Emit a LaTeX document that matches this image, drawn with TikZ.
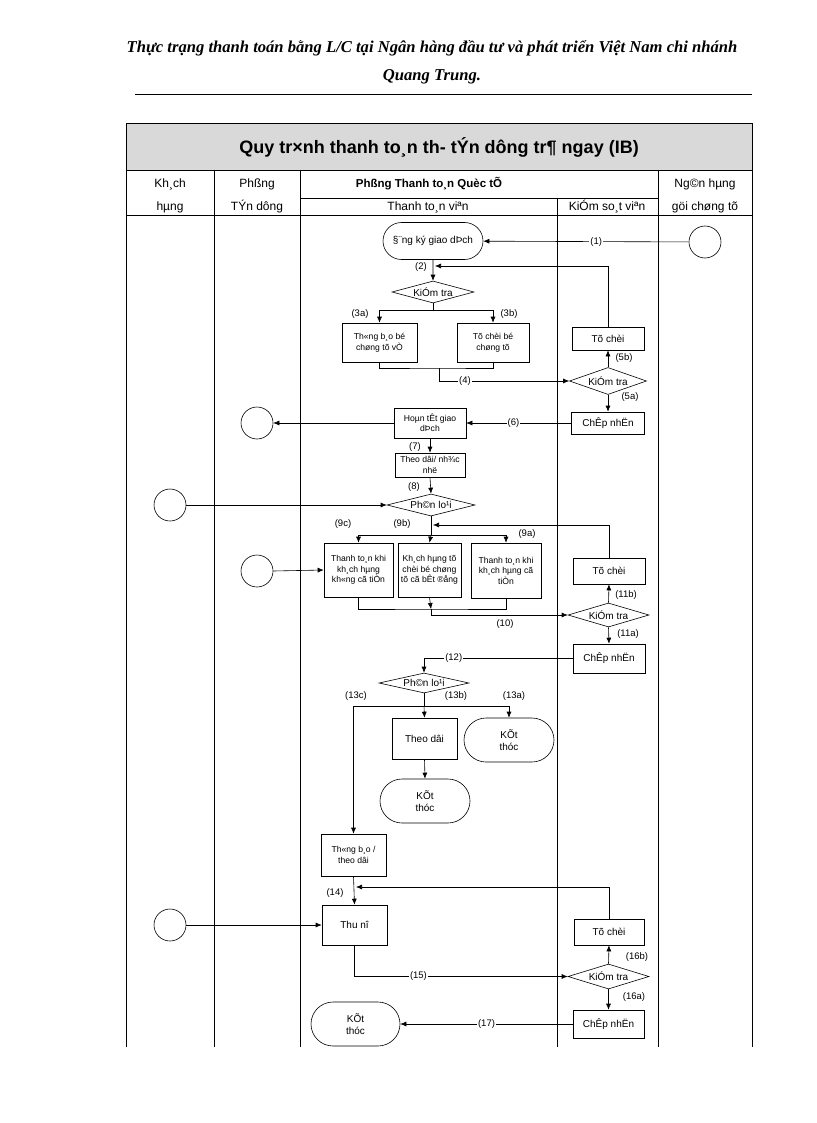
\documentclass[tikz,border=0pt]{standalone}
\usepackage{fontspec}
\setmainfont{Liberation Sans}
\newfontfamily\hdfont{Liberation Serif}
\usetikzlibrary{arrows.meta,shapes.geometric,shapes.misc}
\begin{document}
\begin{tikzpicture}[x=1pt,y=-1pt, line width=0.6pt,
  >={Latex[length=6pt,width=5pt]},
  box/.style={draw, rectangle, inner sep=0pt, align=center, font=\fontsize{8.6}{10.5}\selectfont},
  bbox/.style={box, font=\fontsize{10}{12}\selectfont},
  dia/.style={draw, diamond, inner sep=0pt, font=\fontsize{10}{12}\selectfont},
  stad/.style={draw, rounded rectangle, inner sep=0pt, align=center, font=\fontsize{10}{12}\selectfont},
  circ/.style={draw, circle, minimum size=32pt, inner sep=0pt},
  lbl/.style={font=\fontsize{9.5}{11}\selectfont, inner sep=1pt},
  onl/.style={lbl, fill=white},
  hdr/.style={font=\fontsize{12}{14}\selectfont, inner sep=0pt},
  grid/.style={line width=0.7pt}
]
\useasboundingbox (0,0) rectangle (816,1123);
% page header
\node[font=\hdfont\bfseries\itshape\fontsize{16.6}{19}\selectfont] (hd1) at (432,48) {Thực trạng thanh toán bằng L/C tại Ngân hàng đầu tư và phát triển Việt Nam chi nhánh};
\node[font=\hdfont\bfseries\itshape\fontsize{16.6}{19}\selectfont] (hd2) at (432,77) {Quang Trung.};
\draw[line width=0.5pt] (135,94) -- (752,94);
% table frame
\fill[gray!30] (126,123) rectangle (752,170);
\draw[grid] (126,1047) -- (126,123) -- (752,123) -- (752,1047);
\draw[grid] (126,170) -- (752,170);
\draw[grid] (126,215) -- (752,215);
\draw[grid] (300,198) -- (658,198);
\draw[grid] (214,170) -- (214,1047);
\draw[grid] (300,170) -- (300,1047);
\draw[grid] (658,170) -- (658,1047);
\draw[grid] (557,198) -- (557,1047);
\node[font=\bfseries\fontsize{18}{21}\selectfont] (ttl) at (439,147) {Quy tr×nh thanh to¸n th- tÝn dông tr¶ ngay (IB)};
\node[hdr] (h1a) at (170,184) {Kh¸ch};
\node[hdr] (h1b) at (170,207) {hµng};
\node[hdr] (h2a) at (257,184) {Phßng};
\node[hdr] (h2b) at (257,207) {TÝn dông};
\node[hdr, font=\bfseries\fontsize{11.5}{14}\selectfont] (h3) at (429,184) {Phßng Thanh to¸n Quèc tÕ};
\node[hdr] (h3a) at (428,207) {Thanh to¸n viªn};
\node[hdr] (h3b) at (607,207) {KiÓm so¸t viªn};
\node[hdr] (h4a) at (705,184) {Ng©n hµng};
\node[hdr] (h4b) at (705,207) {göi chøng tõ};

% nodes
\node[stad, minimum width=100pt, minimum height=37pt] (dk) at (433,241) {§¨ng ký giao dÞch};
\node[circ] (c1) at (705,242) {};
\node[dia, minimum width=82pt, minimum height=22pt, aspect=3.7] (kt1) at (433,292) {KiÓm tra};
\node[box, minimum width=75pt, minimum height=39pt] (tb1) at (379.5,342.5) {Th«ng b¸o bé\\chøng tõ vÒ};
\node[box, minimum width=72pt, minimum height=39pt] (tc1) at (493,342.5) {Tõ chèi bé\\chøng tõ};
\node[dia, minimum width=77pt, minimum height=27pt, aspect=2.9] (kt2) at (608,381) {KiÓm tra};
\node[bbox, minimum width=72pt, minimum height=23pt] (tcr1) at (608,338.5) {Tõ chèi};
\node[bbox, minimum width=73pt, minimum height=22pt] (cn1) at (608,423) {ChÊp nhËn};
\node[box, minimum width=72pt, minimum height=30pt] (ht) at (430,423) {Hoµn tÊt giao\\dÞch};
\node[circ] (c2) at (257,423) {};
\node[box, minimum width=70pt, minimum height=24pt] (td) at (430,465) {Theo dâi/ nh¾c\\nhë};
\node[dia, minimum width=88pt, minimum height=22pt, aspect=4] (pl1) at (431,505) {Ph©n lo¹i};
\node[circ] (c3) at (170,505) {};
\node[box, minimum width=69pt, minimum height=54pt] (b9c) at (358.5,570) {Thanh to¸n khi\\kh¸ch hµng\\kh«ng cã tiÒn};
\node[box, minimum width=63pt, minimum height=54pt] (b9b) at (429.5,570) {Kh¸ch hµng tõ\\chèi bé chøng\\tõ cã bÊt ®ång};
\node[box, minimum width=70pt, minimum height=55pt] (b9a) at (506,570.5) {Thanh to¸n khi\\kh¸ch hµng cã\\tiÒn};
\node[circ] (c4) at (257,571) {};
\node[bbox, minimum width=72pt, minimum height=26pt] (tcr2) at (609,571) {Tõ chèi};
\node[dia, minimum width=81pt, minimum height=24pt, aspect=3.4] (kt3) at (608.5,615) {KiÓm tra};
\node[bbox, minimum width=72pt, minimum height=29pt] (cn2) at (609,658.5) {ChÊp nhËn};
\node[dia, minimum width=90pt, minimum height=20pt, aspect=4.5] (pl2) at (424,683) {Ph©n lo¹i};
\node[bbox, minimum width=65pt, minimum height=41pt] (tdoi) at (424.5,738.5) {Theo dâi};
\node[stad, minimum width=90pt, minimum height=44pt] (kth1) at (509,740) {KÕt\\thóc};
\node[stad, minimum width=90pt, minimum height=44pt] (kth2) at (425,801) {KÕt\\thóc};
\node[box, minimum width=65pt, minimum height=42pt] (tbtd) at (353.5,855) {Th«ng b¸o /\\theo dâi};
\node[bbox, minimum width=65pt, minimum height=40pt] (thu) at (354.5,925) {Thu nî};
\node[circ] (c5) at (170,925) {};
\node[bbox, minimum width=70pt, minimum height=26pt] (tcr3) at (609,932) {Tõ chèi};
\node[dia, minimum width=81pt, minimum height=25pt, aspect=3.2] (kt4) at (608.5,976.5) {KiÓm tra};
\node[bbox, minimum width=71pt, minimum height=28pt] (cn3) at (608.5,1024) {ChÊp nhËn};
\node[stad, minimum width=89pt, minimum height=44pt] (kth3) at (355.5,1024) {KÕt\\thóc};

% helper coordinates
\coordinate (f2) at (435,266);
\coordinate (s3) at (433,310);
\coordinate (j4) at (439,368);
\coordinate (f9) at (433,525);
\coordinate (s9) at (431,535);
\coordinate (j10) at (431,609);
\coordinate (s13) at (424,706);
\coordinate (f14) at (356,887);

% connectors
\draw[->] (c1) -- node[onl, pos=0.45] (l1) {(1)} (dk);
\draw[->] (dk) -- (kt1);
\node[lbl] (l2) at (421,267) {(2)};
\draw[->] (tcr1.north) |- (f2);
\draw (kt1.south) -- (s3);
\draw[->] (s3) -| (tb1.north);
\draw[->] (s3) -| (tc1.north);
\node[lbl] (l3a) at (360,314) {(3a)};
\node[lbl] (l3b) at (509,314) {(3b)};
\draw (tb1.south) |- (j4) -| (tc1.south);
\draw[->] (j4) |- node[onl, pos=0.6] (l4) {(4)} (kt2.west);
\draw[->] (kt2.north) -- (tcr1.south);
\node[lbl] (l5b) at (624,358) {(5b)};
\draw[->] (kt2.south) -- (cn1.north);
\node[lbl] (l5a) at (630,397) {(5a)};
\draw[->] (cn1.west) -- node[onl, pos=0.55] (l6) {(6)} (ht.east);
\draw[->] (ht.west) -- (c2.east);
\draw[->] (ht.south) -- (td.north);
\node[lbl] (l7) at (415,447) {(7)};
\draw[->] (td.south) -- (pl1.north);
\node[lbl] (l8) at (414,487) {(8)};
\draw[->] (c3.east) -- (pl1.west);
\draw (pl1.south) -- (s9);
\draw[->] (tcr2.north) |- (f9);
\draw[->] (s9) -| (b9c.north);
\draw[->] (s9) -- (b9b.north);
\draw[->] (s9) -| (b9a.north);
\node[lbl] (l9c) at (343,524) {(9c)};
\node[lbl] (l9b) at (402,524) {(9b)};
\node[lbl] (l9a) at (527,534) {(9a)};
\draw[->] (c4.east) -- (b9c.west);
\draw (b9c.south) |- (j10) -| (b9a.south);
\draw[->] (b9b.south) -- (j10);
\draw[->] (j10) |- (kt3.west);
\node[lbl] (l10) at (505,624) {(10)};
\draw[->] (kt3.north) -- (tcr2.south);
\node[lbl] (l11b) at (626,595) {(11b)};
\draw[->] (kt3.south) -- (cn2.north);
\node[lbl] (l11a) at (628,634) {(11a)};
\draw[->] (cn2.west) -| node[onl, pos=0.4] (l12) {(12)} (pl2.north);
\draw (pl2.south) -- (s13);
\draw[->] (s13) -| (tbtd.north);
\draw[->] (s13) -- (tdoi.north);
\draw[->] (s13) -| (kth1.north);
\node[lbl] (l13c) at (356,696) {(13c)};
\node[lbl] (l13b) at (456,696) {(13b)};
\node[lbl] (l13a) at (514,696) {(13a)};
\draw[->] (tdoi.south) -- (kth2.north);
\draw[->] (tbtd.south) -- (thu.north);
\node[lbl] (l14) at (335,893) {(14)};
\draw[->] (tcr3.north) |- (f14);
\draw[->] (c5.east) -- (thu.west);
\draw[->] (thu.south) |- node[onl, pos=0.65] (l15) {(15)} (kt4.west);
\draw[->] (kt4.north) -- (tcr3.south);
\node[lbl] (l16b) at (637,957) {(16b)};
\draw[->] (kt4.south) -- (cn3.north);
\node[lbl] (l16a) at (634,997) {(16a)};
\draw[->] (cn3.west) -- node[onl, pos=0.5] (l17) {(17)} (kth3.east);
\end{tikzpicture}
\end{document}
